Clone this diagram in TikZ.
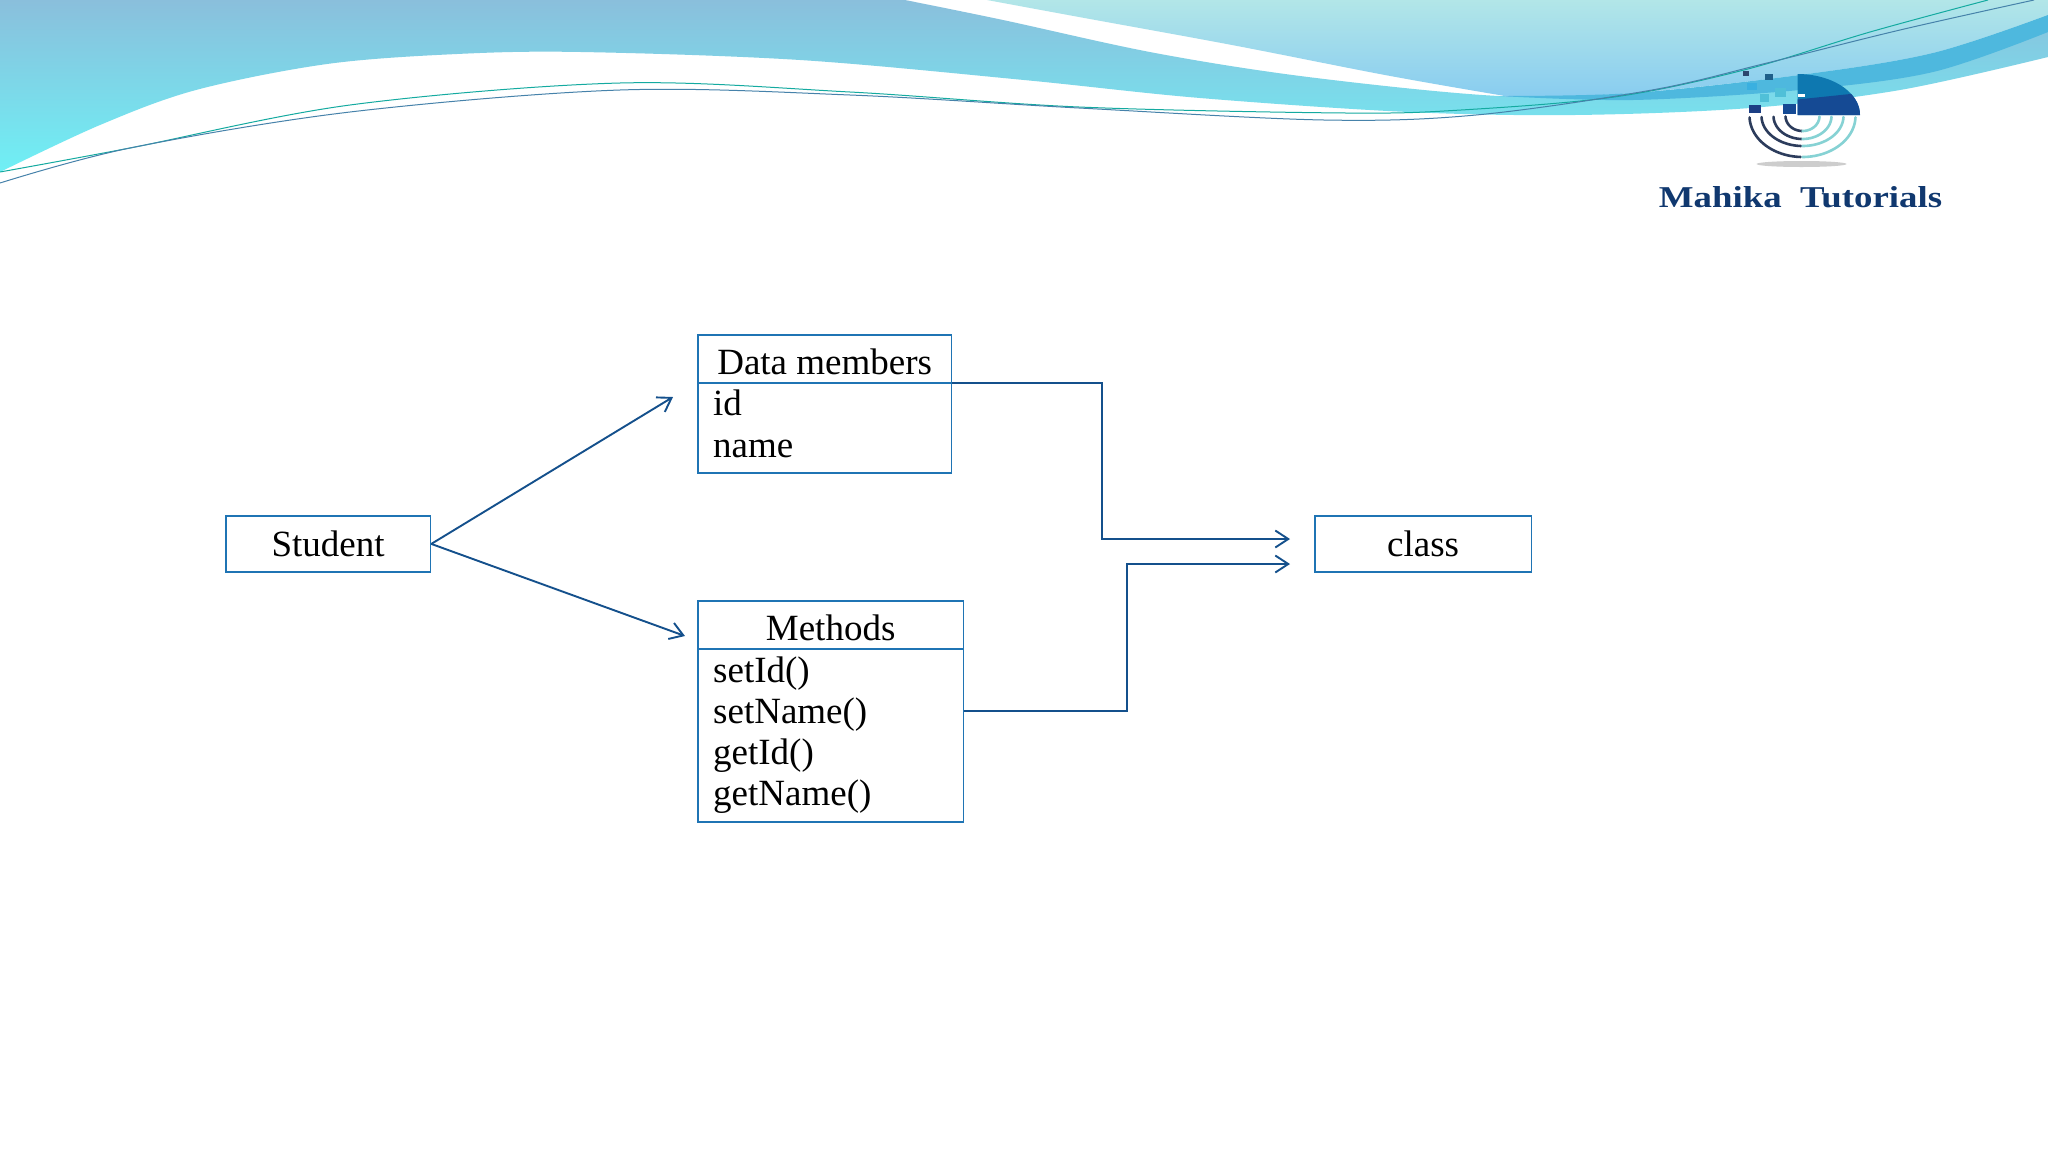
\documentclass[tikz,border=0pt]{standalone}
\usepackage{fontspec}
\setmainfont{Liberation Serif}
\usetikzlibrary{arrows.meta}
\definecolor{boxblue}{HTML}{1F74B4}
\definecolor{linkblue}{HTML}{14508C}
\definecolor{logodark}{HTML}{154A94}
\definecolor{logoteal}{HTML}{0E78B0}
\definecolor{ringdark}{HTML}{2C3C5C}
\definecolor{ringlight}{HTML}{86D2D4}
\definecolor{bandtop}{RGB}{138,191,220}
\definecolor{bandmid}{RGB}{128,208,230}
\definecolor{bandlow}{RGB}{111,240,245}
\definecolor{lighttop}{RGB}{178,230,232}
\definecolor{lightmid}{RGB}{166,224,234}
\definecolor{lightlow}{RGB}{136,204,240}
\definecolor{bandstrong}{RGB}{78,184,222}
\tikzset{
  x=1pt,y=-1pt,
  umlbox/.style={draw=boxblue,line width=1.8pt,anchor=north west,inner sep=0pt,
    font=\fontsize{37}{41}\selectfont,text height=25pt,text depth=0pt,align=center},
  rowtext/.style={anchor=base west,inner sep=0pt,font=\fontsize{37}{41}\selectfont},
  link/.style={draw=linkblue,line width=1.9pt,-{Straight Barb[length=13pt,width=17pt,line width=1.9pt]}},
  ring/.style={line width=2.6pt,line cap=round},
}
\begin{document}
\begin{tikzpicture}
\useasboundingbox (0,0) rectangle (2048,1152);
\fill[white] (0,0) rectangle (2048,1152);
% --- header bands
\shade[top color=bandtop,middle color=bandmid,bottom color=bandlow]
  (0,172) -- (0,0) -- (905,0)
  -- plot[smooth,tension=.55] coordinates {(905,0) (1003,20) (1155,53) (1308,77) (1499,96) (1633,93) (1800,75) (1933,53) (2048,15)}
  -- (2048,57)
  -- plot[smooth,tension=.55] coordinates {(2048,57) (1900,90) (1750,108) (1575,115) (1408,112) (1200,98) (1024,80) (800,60) (581,52) (457,54) (327,64) (196,90) (100,125) (0,172)}
  -- cycle;
\shade[top color=lighttop,middle color=lightmid,bottom color=lightlow]
  (987,0) -- (2048,0) -- (2048,15)
  -- plot[smooth,tension=.55] coordinates {(2048,15) (1933,53) (1800,75) (1633,93) (1515,97) (1499,95) (1385,75) (1232,45) (1079,17) (987,0)}
  -- cycle;
\fill[bandstrong]
  plot[smooth,tension=.55] coordinates {(1499,96) (1633,93) (1800,75) (1933,53) (2048,15)}
  -- (2048,32)
  -- plot[smooth,tension=.55] coordinates {(2048,32) (1933,72) (1800,90) (1633,100) (1499,96)}
  -- cycle;
% --- thin swoosh lines
\draw[color={rgb,255:red,20;green,170;blue,160},line width=1pt]
  plot[smooth,tension=.55] coordinates {(0,172) (130,148) (350,105) (620,83) (850,92) (1079,107) (1346,113) (1461,110) (1614,97) (1744,70) (1870,32) (1988,0)};
\draw[color={rgb,255:red,70;green,130;blue,170},line width=1pt]
  plot[smooth,tension=.55] coordinates {(0,183) (130,148) (350,112) (620,90) (850,95) (1079,108) (1324,120) (1476,115) (1652,90) (1767,63) (1900,30) (2034,0)};
% --- logo
\fill[color={rgb,255:red,205;green,205;blue,205}] (1801.5,164) ellipse [x radius=45,y radius=3];
\fill[logoteal] (1797.5,115) -- plot[domain=0:-90,samples=40] ({1797.5+62.5*cos(\x)},{115+41*sin(\x)}) -- cycle;
\begin{scope}
\clip (1797.5,99.5) -- (1860,93) -- (1860,116) -- (1797.5,116) -- cycle;
\fill[logodark] (1797.5,115) -- plot[domain=0:-90,samples=40] ({1797.5+62.5*cos(\x)},{115+41*sin(\x)}) -- cycle;
\end{scope}
\fill[white] (1797.5,93.5) rectangle (1805,97);
\foreach \rx/\ry in {53/41,41/30,29/23,17/15}{
  \draw[ring,ringdark] plot[domain=178:92,samples=30] ({1802.5+\rx*cos(\x)},{116+\ry*sin(\x)});
  \draw[ring,ringlight] plot[domain=90:2,samples=30] ({1802.5+\rx*cos(\x)},{116+\ry*sin(\x)});
}
\fill[color={rgb,255:red,44;green,70;blue,110}] (1742.7,71) rectangle (1749,75.7);
\fill[color={rgb,255:red,31;green,95;blue,138}] (1765,74) rectangle (1773.3,80);
\fill[color={rgb,255:red,58;green,176;blue,224}] (1746.7,82.7) rectangle (1757.3,90);
\fill[color={rgb,255:red,80;green,192;blue,216}] (1760,94) rectangle (1769.3,101.7);
\fill[color={rgb,255:red,80;green,192;blue,216}] (1775,87.7) rectangle (1785.7,96.7);
\fill[color={rgb,255:red,28;green,63;blue,133}] (1749.3,105) rectangle (1761,113.3);
\fill[logodark] (1782.7,104) rectangle (1795.7,114);
\node[anchor=base,inner sep=0pt,text=logodark!75!black] (brand) at (1800.5,207)
  {\resizebox{283pt}{21pt}{\bfseries Mahika\ \ Tutorials}};
% --- diagram boxes
\node[umlbox,minimum width=204.5pt,minimum height=56pt] (student) at (225,515) {Student};
\node[umlbox,minimum width=216.5pt,minimum height=56pt] (class) at (1314,515) {class};
\node[umlbox,minimum width=253.5pt,minimum height=47.5pt,text height=31pt] (dmhead) at (697,334) {Data members};
\node[umlbox,minimum width=253.5pt,minimum height=90pt] (dmbody) at (697,382) {};
\node[rowtext] (dmid) at (713,415) {id};
\node[rowtext] (dmname) at (713,457) {name};
\node[umlbox,minimum width=265.5pt,minimum height=47.5pt,text height=31pt] (mhead) at (697,600) {Methods};
\node[umlbox,minimum width=265.5pt,minimum height=173pt] (mbody) at (697,648) {};
\node[rowtext] (msetid) at (713,682) {setId()};
\node[rowtext] (msetname) at (713,723) {setName()};
\node[rowtext] (mgetid) at (713,764) {getId()};
\node[rowtext] (mgetname) at (713,805) {getName()};
% --- connector ends
\coordinate (toDm) at (673,397);
\coordinate (toM) at (685,636);
\coordinate (inUp) at (1290,539);
\coordinate (inDown) at (1290,564);
\coordinate (mOut) at (mbody.east |- 0,711);
% --- connectors
\draw[link] (student.east) -- (toDm);
\draw[link] (student.east) -- (toM);
\draw[link] (dmhead.south east) -| (1102,539) -- (inUp);
\draw[link] (mOut) -| (1127,564) -- (inDown);
\end{tikzpicture}
\end{document}
